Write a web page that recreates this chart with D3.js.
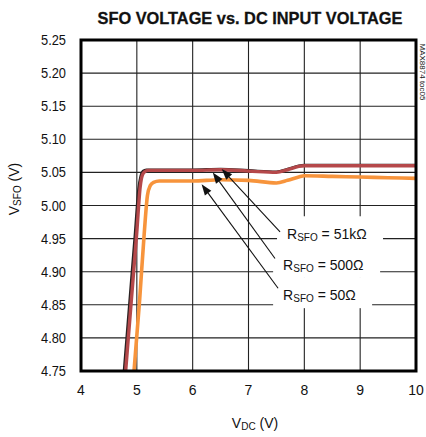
<!DOCTYPE html>
<html><head><meta charset="utf-8">
<script src="https://cdn.jsdelivr.net/npm/d3@7"></script>
<style>
html,body{margin:0;padding:0;background:#fff;}
svg{display:block;}
text{font-family:"Liberation Sans",Arial,sans-serif;fill:#111;}
</style></head><body>
<svg id="c" width="426" height="437"></svg>
<script>
// ---- data ----
const xTicks = [4,5,6,7,8,9,10];
const yTicks = [4.75,4.80,4.85,4.90,4.95,5.00,5.05,5.10,5.15,5.20,5.25];
const seriesNames = ["51kΩ","500Ω","50Ω"];
// R = 51kΩ (black)
const vdc51k  = [4.77,4.87,4.97,5.03,5.07,5.11,5.17,5.3,5.6,6.0,6.5,7.0,7.5,7.7,7.9,8.0,8.5,9.0,9.5,10.0];
const vsfo51k = [4.75,4.855,4.96,5.025,5.045,5.052,5.054,5.054,5.054,5.054,5.055,5.053,5.051,5.055,5.060,5.061,5.061,5.061,5.061,5.061];
// R = 500Ω (red)
const vdc500  = [4.80,4.90,5.00,5.06,5.10,5.14,5.20,5.3,5.6,6.0,6.5,7.0,7.5,7.7,7.9,8.0,8.5,9.0,9.5,10.0];
const vsfo500 = [4.75,4.855,4.96,5.028,5.046,5.051,5.053,5.053,5.053,5.053,5.054,5.052,5.050,5.054,5.059,5.060,5.060,5.060,5.060,5.060];
// R = 50Ω (orange)
const vdc50   = [4.95,5.05,5.13,5.19,5.24,5.30,5.40,5.7,6.0,6.5,7.0,7.5,7.7,7.9,8.0,8.5,9.0,9.5,10.0];
const vsfo50  = [4.75,4.857,4.955,5.015,5.030,5.035,5.037,5.037,5.037,5.039,5.038,5.034,5.038,5.043,5.045,5.044,5.043,5.042,5.041];
// annotation arrows: [tipX, tipY, tailX, tailY] in data units
const arrowTips  = [[6.52,5.0551],[6.36,5.050],[6.16,5.032]];
const arrowTails = [[7.565,4.960],[7.475,4.920],[7.53,4.875]];
const labelPos   = [[7.69,4.949],[7.62,4.903],[7.62,4.857]];

const svg = d3.select("#c");
const L=81,R=416,T=40,B=371;
const x = d3.scaleLinear().domain([4,10]).range([L,R]);
const y = d3.scaleLinear().domain([4.75,5.25]).range([B,T]);

// title
svg.append("text").attr("x",250).attr("y",24).attr("text-anchor","middle")
  .attr("font-family","'Liberation Sans Narrow','Arial Narrow','Liberation Sans',sans-serif")
  .attr("font-weight","bold").attr("font-size",17)
  .attr("stroke","#111").attr("stroke-width",0.3)
  .attr("textLength",305).attr("lengthAdjust","spacingAndGlyphs")
  .text("SFO VOLTAGE vs. DC INPUT VOLTAGE");

// grid
const g = svg.append("g");
g.selectAll(".vx").data(xTicks.slice(1,-1)).enter().append("line")
  .attr("x1",d=>x(d)).attr("x2",d=>x(d)).attr("y1",T).attr("y2",B)
  .attr("stroke","#222").attr("stroke-width",1.1);
g.selectAll(".hy").data(yTicks.slice(1,-1)).enter().append("line")
  .attr("y1",d=>y(d)).attr("y2",d=>y(d)).attr("x1",L).attr("x2",R)
  .attr("stroke","#222").attr("stroke-width",1.1);

// label white backgrounds
const labelW = [82,83,75];
labelPos.forEach((p,i)=>{
  svg.append("rect").attr("x",x(p[0])-10).attr("y",y(p[1])-23)
    .attr("width",labelW[i]+24).attr("height",31).attr("fill","#fff");
});

// axis tick labels
const ax = svg.append("g");
ax.selectAll(".xt").data(xTicks).enter().append("text")
  .attr("x",d=>x(d)).attr("y",395).attr("text-anchor","middle").attr("font-size",14)
  .text(d=>d);
ax.selectAll(".yt").data(yTicks).enter().append("text")
  .attr("x",66).attr("y",d=>y(d)+5).attr("text-anchor","end").attr("font-size",14)
  .attr("textLength",25).attr("lengthAdjust","spacingAndGlyphs")
  .text(d=>d.toFixed(2));

// axis titles
const xt = svg.append("text").attr("x",255).attr("y",428).attr("text-anchor","middle").attr("font-size",14);
xt.append("tspan").text("V");
xt.append("tspan").attr("font-size",10).attr("dy",2).text("DC");
xt.append("tspan").attr("dy",-2).text(" (V)");
const yt = svg.append("text").attr("transform","translate(19,189) rotate(-90)").attr("text-anchor","middle").attr("font-size",14);
yt.append("tspan").text("V");
yt.append("tspan").attr("font-size",10).attr("dy",2).text("SFO");
yt.append("tspan").attr("dy",-2).text(" (V)");

// side code
svg.append("text").attr("transform","translate(420,72) rotate(90)").attr("text-anchor","middle")
  .attr("font-size",8).attr("fill","#222").text("MAX8874 toc05");

// lines
svg.append("clipPath").attr("id","cp").append("rect").attr("x",L).attr("y",T).attr("width",R-L).attr("height",B-T);
const lineGen = d3.line().x(d=>x(d[0])).y(d=>y(d[1])).curve(d3.curveMonotoneX);
const lg = svg.append("g").attr("clip-path","url(#cp)");
lg.append("path").datum(d3.zip(vdc51k,vsfo51k)).attr("d",lineGen)
  .attr("fill","none").attr("stroke","#2a2222").attr("stroke-width",2.6);
lg.append("path").datum(d3.zip(vdc500,vsfo500)).attr("d",lineGen)
  .attr("fill","none").attr("stroke","#b5484a").attr("stroke-width",3.4);
lg.append("path").datum(d3.zip(vdc50,vsfo50)).attr("d",lineGen)
  .attr("fill","none").attr("stroke","#f7943c").attr("stroke-width",3.6);

// arrows
arrowTips.forEach((t,i)=>{
  const tx=x(t[0]), ty=y(t[1]), sx=x(arrowTails[i][0]), sy=y(arrowTails[i][1]);
  const ang=Math.atan2(sy-ty,sx-tx);
  const len=11, hw=4;
  const bx=tx+len*Math.cos(ang), by=ty+len*Math.sin(ang);
  svg.append("line").attr("x1",sx).attr("y1",sy).attr("x2",bx).attr("y2",by)
    .attr("stroke","#111").attr("stroke-width",1.1);
  const px=-Math.sin(ang)*hw, py=Math.cos(ang)*hw;
  svg.append("path").attr("d",`M${tx},${ty}L${bx+px},${by+py}L${bx-px},${by-py}Z`).attr("fill","#111");
});

// labels
labelPos.forEach((p,i)=>{
  const t=svg.append("text").attr("x",x(p[0])).attr("y",y(p[1])).attr("font-size",14);
  t.append("tspan").text("R");
  t.append("tspan").attr("font-size",10).attr("dy",2).text("SFO");
  t.append("tspan").attr("dy",-2).text(" = "+seriesNames[i]);
});

// frame
svg.append("rect").attr("x",L).attr("y",T).attr("width",R-L).attr("height",B-T)
  .attr("fill","none").attr("stroke","#000").attr("stroke-width",3);
</script>
</body></html>
